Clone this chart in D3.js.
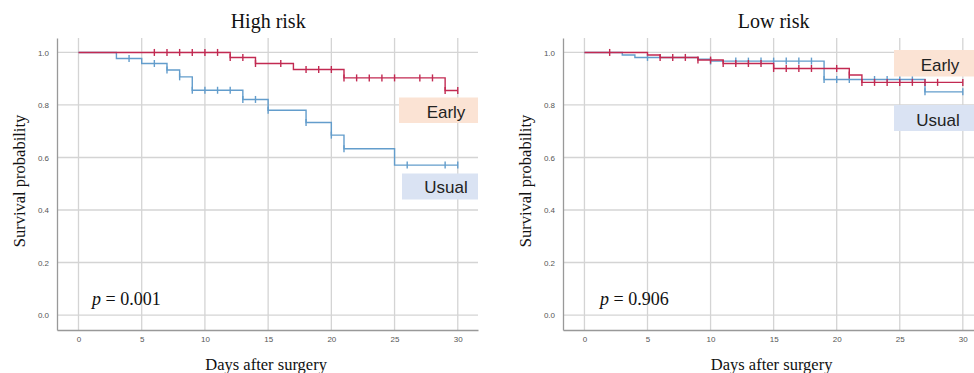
<!DOCTYPE html>
<html>
<head>
<meta charset="utf-8">
<script src="https://cdn.jsdelivr.net/npm/d3@7"></script>
<style>
  body { margin: 0; background: #fff; }
  svg { display: block; }
  .tick text { font-family: "Liberation Sans", Arial, sans-serif; font-size: 8px; fill: #555; }
  .serif { font-family: "Liberation Serif", "Times New Roman", serif; fill: #111; }
  .legend-text { font-family: "Liberation Sans", Arial, sans-serif; font-size: 17px; fill: #222; }
</style>
</head>
<body>
<div id="chart"></div>
<script>
// x ticks (days) and y ticks (survival)
const dayTicks = [0, 5, 10, 15, 20, 25, 30];
const survTicks = [0.0, 0.2, 0.4, 0.6, 0.8, 1.0];
const lastDay = 30;

// High risk: [day of event, survival after it]
const highEarlySteps = [[0, 1], [12, 0.981], [14, 0.958], [17, 0.935], [21, 0.903], [29, 0.855]];
const highEarlyCensor = [6, 7, 8, 9, 10, 11, 12, 13, 14, 16, 18, 19, 20, 21, 22, 23, 24, 25, 27, 28, 29, 30];
const highUsualSteps = [[0, 1], [3, 0.977], [5, 0.958], [7, 0.933], [8, 0.907], [9, 0.856], [13, 0.821],
                        [15, 0.78], [18, 0.733], [20, 0.685], [21, 0.633], [25, 0.571]];
const highUsualCensor = [4, 6, 7, 8, 9, 10, 11, 12, 13, 14, 15, 18, 20, 21, 26, 29, 30];

// Low risk
const lowEarlySteps = [[0, 1], [5, 0.99], [6, 0.981], [9, 0.971], [11, 0.958], [15, 0.939], [21, 0.914], [22, 0.886]];
const lowEarlyCensor = [2, 6, 7, 8, 9, 10, 11, 12, 13, 14, 15, 16, 17, 18, 20, 21, 22, 23, 24, 25, 26, 27, 28, 30];
const lowUsualSteps = [[0, 1], [3, 0.99], [4, 0.981], [9, 0.974], [10, 0.967], [19, 0.897], [27, 0.85]];
const lowUsualCensor = [5, 10, 12, 13, 14, 15, 16, 17, 18, 19, 20, 21, 23, 24, 25, 26, 27, 30];

const pValues = ['0.001', '0.906'];
const titles = ['High risk', 'Low risk'];
const groupNames = ['Early', 'Usual'];

const colors = { Early: '#c22a52', Usual: '#639dcc' };
const boxFill = { Early: '#fbe3d4', Usual: '#dae3f3' };

const W = 974, H = 373;
const svg = d3.select('#chart').append('svg')
    .attr('width', W)
    .attr('height', H);

const panels = [
    {
        left: 57, right: 478, title: titles[0], p: pValues[0],
        series: [
            { name: 'Usual', steps: highUsualSteps, censor: highUsualCensor },
            { name: 'Early', steps: highEarlySteps, censor: highEarlyCensor }
        ],
        legend: { Early: [399, 97.5, 79, 25.5, 446, 118], Usual: [402, 173.5, 76, 26, 446, 193] },
        pX: 92
    },
    {
        left: 563, right: 983, title: titles[1], p: pValues[1],
        series: [
            { name: 'Usual', steps: lowUsualSteps, censor: lowUsualCensor },
            { name: 'Early', steps: lowEarlySteps, censor: lowEarlyCensor }
        ],
        legend: { Early: [894, 50, 80, 26.5, 940, 71], Usual: [894, 105, 80, 26, 938, 125.5] },
        pX: 600
    }
];

const plotTop = 38, plotBottom = 330;

panels.forEach(pn => {
    const x = d3.scaleLinear().domain([-1.7, 31.6]).range([pn.left, pn.right]);
    const y = d3.scaleLinear().domain([-0.057, 1.055]).range([plotBottom, plotTop]);

    const g = svg.append('g');

    // grid
    g.append('g').selectAll('line')
        .data(dayTicks)
        .join('line')
        .attr('x1', d => x(d)).attr('x2', d => x(d))
        .attr('y1', plotTop).attr('y2', plotBottom)
        .attr('stroke', '#d4d4d4').attr('stroke-width', 1.3);
    g.append('g').selectAll('line')
        .data(survTicks)
        .join('line')
        .attr('x1', pn.left).attr('x2', pn.right)
        .attr('y1', d => y(d)).attr('y2', d => y(d))
        .attr('stroke', '#d4d4d4').attr('stroke-width', 1.3);

    // axes
    const xAxis = d3.axisBottom(x).tickValues(dayTicks).tickSize(0).tickPadding(6);
    const yAxis = d3.axisLeft(y).tickValues(survTicks).tickSize(0).tickPadding(8)
        .tickFormat(d3.format('.1f'));

    const xg = g.append('g').attr('transform', `translate(0,${plotBottom})`).call(xAxis);
    xg.select('.domain').attr('stroke', '#999').attr('stroke-width', 1.3);
    const yg = g.append('g').attr('transform', `translate(${pn.left},0)`).call(yAxis);
    yg.select('.domain').attr('stroke', '#999').attr('stroke-width', 1.3);

    // curves
    const line = d3.line()
        .x(d => x(d[0]))
        .y(d => y(d[1]))
        .curve(d3.curveStepAfter);

    pn.series.forEach(s => {
        const pts = s.steps.concat([[lastDay, s.steps[s.steps.length - 1][1]]]);
        g.append('path')
            .datum(pts)
            .attr('d', line)
            .attr('fill', 'none')
            .attr('stroke', colors[s.name])
            .attr('stroke-width', 1.4);

        const survAt = t => {
            let v = 1;
            s.steps.forEach(st => { if (st[0] <= t) v = st[1]; });
            return v;
        };
        g.append('g').selectAll('line')
            .data(s.censor)
            .join('line')
            .attr('x1', d => x(d)).attr('x2', d => x(d))
            .attr('y1', d => y(survAt(d)) - 3.5)
            .attr('y2', d => y(survAt(d)) + 3.5)
            .attr('stroke', colors[s.name])
            .attr('stroke-width', 1.4);
    });

    // titles and labels
    g.append('text')
        .attr('class', 'serif')
        .attr('x', x(15))
        .attr('y', 28)
        .attr('text-anchor', 'middle')
        .style('font-size', '20px')
        .text(pn.title);

    g.append('text')
        .attr('class', 'serif')
        .attr('transform', `translate(${pn.left - 32},181) rotate(-90)`)
        .attr('text-anchor', 'middle')
        .style('font-size', '16.5px')
        .text('Survival probability');

    g.append('text')
        .attr('class', 'serif')
        .attr('x', x(15) - 2)
        .attr('y', 370)
        .attr('text-anchor', 'middle')
        .style('font-size', '16.5px')
        .text('Days after surgery');

    const pt = g.append('text')
        .attr('class', 'serif')
        .attr('x', pn.pX)
        .attr('y', 305)
        .style('font-size', '18px');
    pt.append('tspan').style('font-style', 'italic').text('p');
    pt.append('tspan').text(' = ' + pn.p);

    // legend boxes
    groupNames.forEach(name => {
        const b = pn.legend[name];
        g.append('rect')
            .attr('x', b[0]).attr('y', b[1])
            .attr('width', b[2]).attr('height', b[3])
            .attr('fill', boxFill[name]);
        g.append('text')
            .attr('class', 'legend-text')
            .attr('x', b[4]).attr('y', b[5])
            .attr('text-anchor', 'middle')
            .text(name);
    });
});
</script>
</body>
</html>
